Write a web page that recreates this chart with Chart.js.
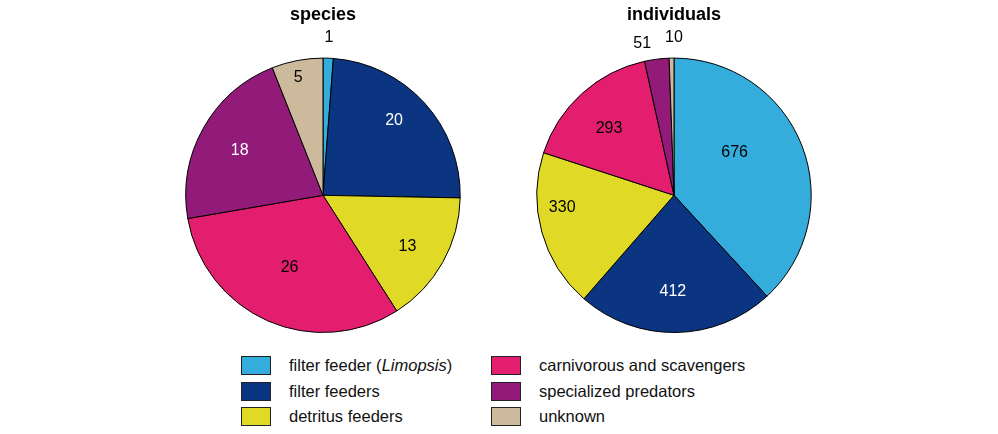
<!DOCTYPE html>
<html>
<head>
<meta charset="utf-8">
<script src="https://cdn.jsdelivr.net/npm/chart.js@4"></script>
<style>
    body { margin: 0; background: #fff; font-family: 'Liberation Sans', Arial, Helvetica, sans-serif; }
    #wrap { position: relative; width: 998px; height: 434px; overflow: hidden; }
    .pie { position: absolute; top: 0; height: 345px; overflow: hidden; }
    #legend { position: absolute; left: 241px; top: 356px; }
    .item { position: absolute; display: flex; align-items: center; font-size: 16.5px; color: #111; white-space: nowrap; }
    .item span.box { display: inline-block; width: 28px; height: 17px; border: 1px solid #222; margin-right: 18px; }
</style>
</head>
<body>
<div id="wrap">
    <div class="pie" style="left:173px;width:300px"><canvas id="speciesChart" width="300" height="345"></canvas></div>
    <div class="pie" style="left:524px;width:289px"><canvas id="individualsChart" width="300" height="345"></canvas></div>
    <div id="legend"></div>
</div>
<script>
    // groups, clockwise from 12 o'clock
    var groups = ['filter feeder (<i>Limopsis</i>)', 'filter feeders', 'detritus feeders',
        'carnivorous and scavengers', 'specialized predators', 'unknown'];
    var speciesCounts = [1, 20, 13, 26, 18, 5];
    var individualCounts = [676, 412, 330, 293, 51, 10];

    var colors = ['#34acdc', '#0b3580', '#e0da26', '#e31e6e', '#921b7a', '#cdba9c'];
    var labelColors = ['#000', '#fff', '#000', '#000', '#fff', '#000'];

    // label placement: distance as a fraction of the radius, and a turn (degrees) off the mid angle
    var speciesLabelPos = [1.15, 0.75, 0.72, 0.58, 0.69, 0.88];
    var speciesLabelTurn = [0, -4, 2, 1, -1, -1];
    var individualLabelPos = [0.54, 0.70, 0.82, 0.68, 1.13, 1.15];
    var individualLabelTurn = [-13.7, 1.5, 9, -2, -4.6, 1];

    var sliceLabels = {
        id: 'sliceLabels',
        afterDatasetsDraw: function (chart, args, opts) {
            var ctx = chart.ctx;
            var meta = chart.getDatasetMeta(0);
            var values = chart.data.datasets[0].data;
            ctx.save();
            ctx.font = '16px "Liberation Sans", Arial, sans-serif';
            ctx.textAlign = 'center';
            ctx.textBaseline = 'middle';
            meta.data.forEach(function (arc, i) {
                var p = arc.getProps(['x', 'y', 'startAngle', 'endAngle', 'outerRadius'], true);
                var mid = (p.startAngle + p.endAngle) / 2 + opts.turn[i] * Math.PI / 180;
                var r = p.outerRadius * opts.pos[i];
                ctx.fillStyle = opts.pos[i] > 1 ? '#000' : labelColors[i];
                ctx.fillText(values[i], p.x + Math.cos(mid) * r, p.y + Math.sin(mid) * r);
            });
            ctx.restore();
        }
    };

    function makePie(id, title, data, pos, turn) {
        var ctx = document.getElementById(id).getContext('2d');
        return new Chart(ctx, {
            type: 'pie',
            data: {
                labels: groups,
                datasets: [{
                    data: data,
                    backgroundColor: colors,
                    borderColor: '#000',
                    borderWidth: 1
                }]
            },
            options: {
                responsive: false,
                animation: false,
                layout: { padding: { top: 3, bottom: 12, left: 12, right: 12 } },
                plugins: {
                    legend: { display: false },
                    tooltip: { enabled: false },
                    title: {
                        display: true,
                        text: title,
                        color: '#000',
                        font: { size: 18, weight: 'bold', family: '"Liberation Sans", Arial, sans-serif' },
                        padding: { top: 1, bottom: 32 }
                    },
                    sliceLabels: { pos: pos, turn: turn }
                }
            },
            plugins: [sliceLabels]
        });
    }

    makePie('speciesChart', 'species', speciesCounts, speciesLabelPos, speciesLabelTurn);
    makePie('individualsChart', 'individuals', individualCounts, individualLabelPos, individualLabelTurn);

    // legend, two columns of three
    var legend = document.getElementById('legend');
    groups.forEach(function (g, i) {
        var col = Math.floor(i / 3), row = i % 3;
        var div = document.createElement('div');
        div.className = 'item';
        div.style.left = (col * 250) + 'px';
        div.style.top = (row * 25.5) + 'px';
        div.innerHTML = '<span class="box" style="background:' + colors[i] + '"></span>' + g;
        legend.appendChild(div);
    });
</script>
</body>
</html>
